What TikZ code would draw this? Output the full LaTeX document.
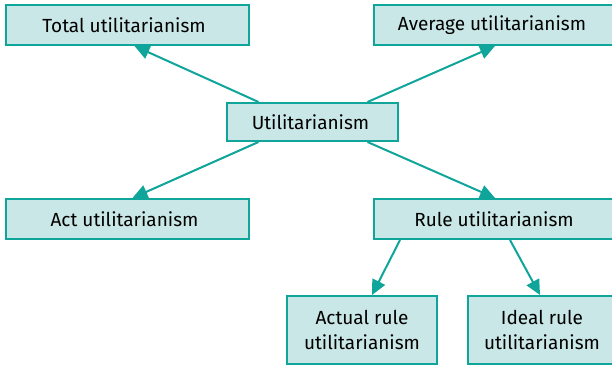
\documentclass[tikz,border=0pt]{standalone}
\usepackage{fontspec}
\setmainfont{Fira Sans}
\usetikzlibrary{arrows.meta}
\definecolor{boxfill}{RGB}{201,231,230}
\definecolor{boxline}{RGB}{16,165,155}
\begin{document}
\begin{tikzpicture}[x=1pt,y=1pt,
  concept/.style={draw=boxline, fill=boxfill, line width=2pt, inner sep=0pt,
    minimum height=40pt, align=center, font=\fontsize{19}{24.5}\selectfont},
  link/.style={draw=boxline, line width=2pt, -{Triangle[length=15pt,width=14pt]}}]
  \clip (0,0) rectangle (612,366);
  % top-level concept
  \node[concept, minimum width=171pt, minimum height=38pt] (util) at (312.5,244) {Utilitarianism\hspace{4pt}};
  % population variants
  \node[concept, minimum width=243pt] (total) at (127.5,341) {Total utilitarianism\hspace{7pt}};
  \node[concept, minimum width=240pt] (avg) at (494,341) {Average utilitarianism\hspace{4pt}};
  % act and rule variants
  \node[concept, minimum width=243pt] (act) at (127.5,147) {Act utilitarianism\hspace{6pt}};
  \node[concept, minimum width=240pt] (rule) at (494,147) {Rule utilitarianism};
  % kinds of rule utilitarianism
  \node[concept, minimum width=150pt, minimum height=68pt] (actual) at (362,36) {Actual rule\\utilitarianism};
  \node[concept, minimum width=148pt, minimum height=68pt] (ideal) at (542,36) {Ideal rule\\utilitarianism};
  % connectors
  \draw[link] ([xshift=-54pt]util.north) -- ([xshift=7pt]total.south);
  \draw[link] ([xshift=55pt]util.north) -- ([xshift=1pt]avg.south);
  \draw[link] ([xshift=-54pt]util.south) -- ([xshift=5pt]act.north);
  \draw[link] ([xshift=55pt]util.south) -- ([xshift=1pt]rule.north);
  \draw[link] ([xshift=-94pt]rule.south) -- ([xshift=10pt]actual.north);
  \draw[link] ([xshift=16pt]rule.south) -- ([xshift=-2pt]ideal.north);
\end{tikzpicture}
\end{document}
